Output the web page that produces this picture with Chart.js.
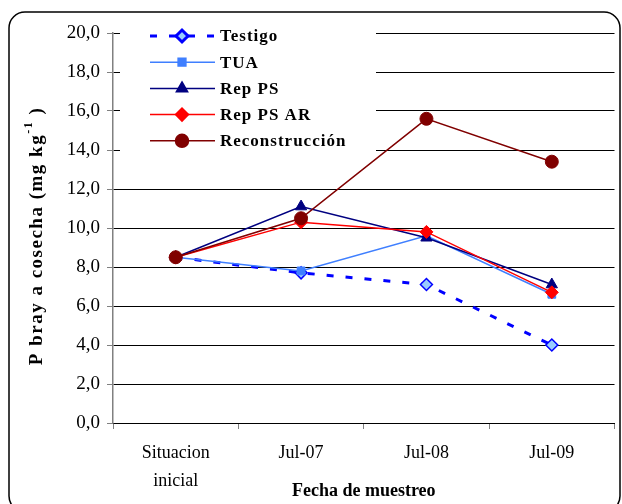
<!DOCTYPE html>
<html>
<head>
<meta charset="utf-8">
<script src="https://cdn.jsdelivr.net/npm/chart.js@4/dist/chart.umd.min.js"></script>
<style>
  html, body { margin: 0; padding: 0; background: #fff; }
  #chart { display: block; }
</style>
</head>
<body>
<canvas id="chart" width="622" height="504"></canvas>
<script>
// Sampling dates (x axis)
const categories = [["Situacion", "inicial"], "Jul-07", "Jul-08", "Jul-09"];

// P bray at harvest, mg/kg, one array per treatment
const testigo = [8.5, 7.7, 7.1, 4.0];
const tua = [8.5, 7.8, 9.6, 6.6];
const repPS = [8.5, 11.1, 9.5, 7.1];
const repPSAR = [8.5, 10.3, 9.8, 6.7];
const reconstruccion = [8.5, 10.5, 15.6, 13.4];

// Y axis
const yMin = 0;
const yMax = 20;
const yStep = 2;

const serif = "'Liberation Serif', 'Times New Roman', serif";

// Draws the rounded frame around the whole chart
const framePlugin = {
  id: "frame",
  afterDraw(chart) {
    const ctx = chart.ctx;
    ctx.save();
    ctx.strokeStyle = "#000";
    ctx.lineWidth = 1.5;
    ctx.beginPath();
    ctx.roundRect(9, 12, 611, 500, 16);
    ctx.stroke();
    ctx.restore();
  }
};

// Y axis title with superscript
const yTitlePlugin = {
  id: "yTitle",
  afterDraw(chart) {
    const ctx = chart.ctx;
    const main = "P bray a cosecha (mg kg";
    const sup = "-1";
    const end = " )";
    ctx.save();
    ctx.translate(37, 236);
    ctx.rotate(-Math.PI / 2);
    ctx.fillStyle = "#000";
    ctx.textBaseline = "middle";
    ctx.letterSpacing = "1.5px";
    const mainFont = "bold 19px " + serif;
    const supFont = "bold 12px " + serif;
    ctx.font = mainFont;
    const w1 = ctx.measureText(main).width;
    const w3 = ctx.measureText(end).width;
    ctx.font = supFont;
    const w2 = ctx.measureText(sup).width;
    let x = -(w1 + w2 + w3) / 2;
    ctx.font = mainFont;
    ctx.fillText(main, x, 0);
    x += w1;
    ctx.font = supFont;
    ctx.fillText(sup, x, -8);
    x += w2;
    ctx.font = mainFont;
    ctx.fillText(end, x, 0);
    ctx.restore();
  }
};

// Legend drawn inside the plot, on a white box
const legendPlugin = {
  id: "insideLegend",
  afterDatasetsDraw(chart) {
    const ctx = chart.ctx;
    ctx.save();
    ctx.fillStyle = "#fff";
    ctx.fillRect(120, 18, 256, 139);
    chart.data.datasets.forEach((ds, i) => {
      const y = 36 + i * 26.2;
      ctx.strokeStyle = ds.borderColor;
      ctx.lineWidth = ds.borderWidth;
      ctx.setLineDash(ds.borderDash || []);
      ctx.beginPath();
      ctx.moveTo(150, y);
      ctx.lineTo(215, y);
      ctx.stroke();
      ctx.setLineDash([]);
      ctx.fillStyle = ds.pointBackgroundColor;
      ctx.strokeStyle = ds.pointBorderColor;
      Chart.helpers.drawPoint(ctx, {
        pointStyle: ds.pointStyle,
        radius: ds.pointRadius,
        rotation: 0,
        borderWidth: ds.pointBorderWidth
      }, 182, y);
      ctx.fillStyle = "#000";
      ctx.font = "bold 17px " + serif;
      ctx.letterSpacing = "1px";
      ctx.textBaseline = "middle";
      ctx.fillText(ds.label, 220, y + 1);
      ctx.letterSpacing = "0px";
    });
    ctx.restore();
  }
};

const ctx = document.getElementById("chart").getContext("2d");
const chart = new Chart(ctx, {
  type: "line",
  data: {
    labels: categories,
    datasets: [
      {
        label: "Testigo",
        data: testigo,
        borderColor: "#0000FF",
        borderWidth: 3,
        borderDash: [7, 12],
        pointStyle: "rectRot",
        pointRadius: 6,
        pointBackgroundColor: "#99CCFF",
        pointBorderColor: "#0000FF",
        pointBorderWidth: 1.5,
        order: 5
      },
      {
        label: "TUA",
        data: tua,
        borderColor: "#3F7FFF",
        borderWidth: 1.5,
        pointStyle: "rect",
        pointRadius: 5.5,
        pointBackgroundColor: "#3F7FFF",
        pointBorderColor: "#3F7FFF",
        pointBorderWidth: 1,
        order: 4
      },
      {
        label: "Rep PS",
        data: repPS,
        borderColor: "#000080",
        borderWidth: 1.5,
        pointStyle: "triangle",
        pointRadius: 6.5,
        pointBackgroundColor: "#000080",
        pointBorderColor: "#000080",
        pointBorderWidth: 1,
        order: 3
      },
      {
        label: "Rep PS AR",
        data: repPSAR,
        borderColor: "#FF0000",
        borderWidth: 1.5,
        pointStyle: "rectRot",
        pointRadius: 6.5,
        pointBackgroundColor: "#FF0000",
        pointBorderColor: "#FF0000",
        pointBorderWidth: 1,
        order: 2
      },
      {
        label: "Reconstrucción",
        data: reconstruccion,
        borderColor: "#800000",
        borderWidth: 1.5,
        pointStyle: "circle",
        pointRadius: 6.5,
        pointBackgroundColor: "#800000",
        pointBorderColor: "#800000",
        pointBorderWidth: 1,
        order: 1
      }
    ]
  },
  options: {
    responsive: false,
    animation: false,
    devicePixelRatio: 1,
    layout: { padding: { left: 0, right: 4, top: 33, bottom: 0 } },
    plugins: {
      legend: { display: false },
      tooltip: { enabled: false }
    },
    elements: { line: { tension: 0 } },
    scales: {
      x: {
        offset: true,
        grid: {
          offset: true,
          drawOnChartArea: false,
          tickLength: 6,
          tickColor: "#808080"
        },
        border: { color: "#000", width: 1 },
        ticks: {
          color: "#000",
          padding: 10,
          maxRotation: 0,
          font: { family: serif, size: 18, lineHeight: 1.55 }
        },
        title: {
          display: true,
          text: "Fecha de muestreo",
          color: "#000",
          padding: { top: 0, bottom: 2 },
          font: { family: serif, size: 18, weight: "bold" }
        },
        afterFit(scale) { scale.height = 81; }
      },
      y: {
        min: yMin,
        max: yMax,
        ticks: {
          stepSize: yStep,
          color: "#000",
          padding: 7,
          font: { family: serif, size: 19 },
          callback: (v) => v.toFixed(1).replace(".", ",")
        },
        grid: {
          color: "#000",
          lineWidth: 1,
          tickLength: 6,
          tickColor: "#808080"
        },
        border: { color: "#808080", width: 1.5 },
        afterFit(scale) { scale.width = 113; }
      }
    }
  },
  plugins: [legendPlugin, yTitlePlugin, framePlugin]
});
</script>
</body>
</html>
